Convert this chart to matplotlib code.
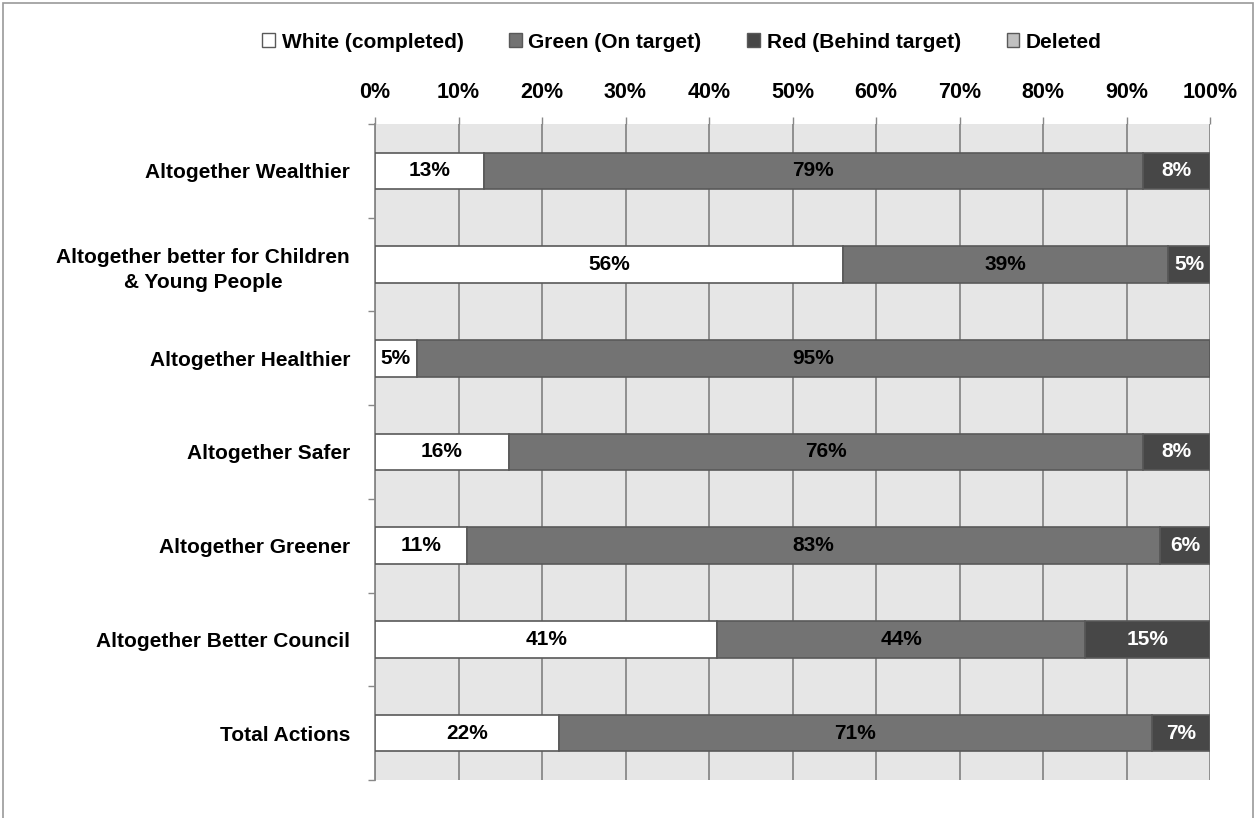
import matplotlib
matplotlib.use("Agg")
import matplotlib.pyplot as plt
from matplotlib.patches import Patch, Rectangle
import numpy as np

plt.rcParams['font.family'] = ['Liberation Sans', 'DejaVu Sans']
plt.rcParams['font.weight'] = 'bold'

categories = ['Altogether Wealthier',
              'Altogether better for Children\n& Young People',
              'Altogether Healthier',
              'Altogether Safer',
              'Altogether Greener',
              'Altogether Better Council',
              'Total Actions']
white = [13, 56, 5, 16, 11, 41, 22]
green = [79, 39, 95, 76, 83, 44, 71]
red = [8, 5, 0, 8, 6, 15, 7]
deleted = [0, 0, 0, 0, 0, 0, 0]

series = [('White (completed)', white, '#ffffff', 'black'),
          ('Green (On target)', green, '#737373', 'black'),
          ('Red (Behind target)', red, '#474747', 'white'),
          ('Deleted', deleted, '#c0c0c0', 'black')]

FS = 15

fig = plt.figure(figsize=(12.56, 8.18), dpi=100)
ax = fig.add_axes([375/1256, 1-780/818, 835/1256, 656/818])
ax.set_facecolor('#e6e6e6')

y = np.arange(len(categories))
left = np.zeros(len(categories))
for name, vals, col, tcol in series:
    vals = np.array(vals, dtype=float)
    bars = ax.barh(y, vals, left=left, height=0.39, color=col,
                   edgecolor='#595959', linewidth=1.2, zorder=3)
    for b, v in zip(bars, vals):
        if v > 0:
            ax.text(b.get_x() + b.get_width()/2, b.get_y() + b.get_height()/2,
                    f'{int(v)}%', ha='center', va='center', color=tcol,
                    fontsize=FS, fontweight='bold', zorder=4)
    left += vals

ax.set_xlim(0, 100)
ax.set_ylim(len(categories) - 0.5, -0.5)
ax.xaxis.tick_top()
ax.set_xticks(range(0, 101, 10))
ax.set_xticklabels([f'{t}%' for t in range(0, 101, 10)], fontsize=FS + 0.5, fontweight='bold')
ax.tick_params(axis='x', length=5, color='#888888', pad=10, width=1)
ax.grid(axis='x', color='#888888', linewidth=1.3, zorder=1)

ax.set_yticks(y)
ax.set_yticklabels(categories, fontsize=FS, fontweight='bold', multialignment='center',
                   linespacing=1.45)
ax.set_yticks(np.arange(-0.5, len(categories)), minor=True)
ax.tick_params(axis='y', which='major', length=0, pad=18)
ax.tick_params(axis='y', which='minor', length=5, color='#888888', width=1)

for s in ['top', 'bottom', 'right']:
    ax.spines[s].set_visible(False)
ax.spines['left'].set_color('#888888')
ax.spines['left'].set_linewidth(1.3)

handles = [Patch(facecolor=c, edgecolor='#595959', label=n) for n, _, c, _ in series]
fig.legend(handles=handles, loc='center', bbox_to_anchor=(682/1256, 1-42/818), ncol=4,
           frameon=False, fontsize=FS, handlelength=0.62, handleheight=0.62,
           handletextpad=0.3, columnspacing=2.2)

fig.patches.append(Rectangle((3/1256, -0.01), 1250/1256, 1.01-3/818, transform=fig.transFigure,
                             fill=False, edgecolor='#999999', linewidth=1.2))

fig.savefig('out.png', dpi=100)
